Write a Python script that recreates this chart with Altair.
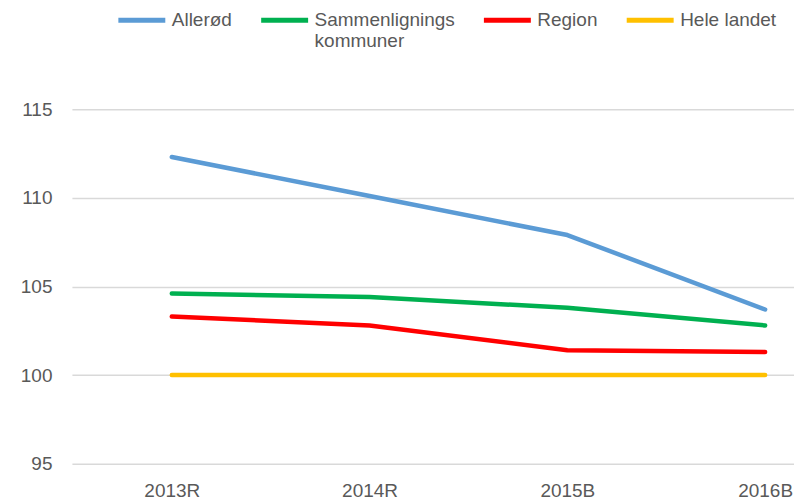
import altair as alt
import pandas as pd

categories = ["2013R", "2014R", "2015B", "2016B"]
series_names = ["Allerød", "Sammenlignings kommuner", "Region", "Hele landet"]
allerod = [112.3, 110.1, 107.9, 103.7]
sammen = [104.6, 104.4, 103.8, 102.8]
region = [103.3, 102.8, 101.4, 101.3]
hele = [100, 100, 100, 100]
colors = ["#5B9BD5", "#00B050", "#FF0000", "#FFC000"]

rows = []
for name, vals in zip(series_names, [allerod, sammen, region, hele]):
    for i, (c, v) in enumerate(zip(categories, vals)):
        rows.append({"series": name, "cat": c, "value": v, "idx": i})
df = pd.DataFrame(rows)

FONT = "Liberation Sans"
TXT = "#595959"
FS = 19

cat_array = "[" + ", ".join("'%s'" % c for c in categories) + "]"

chart = alt.Chart(df).mark_line(strokeWidth=4.5, strokeCap="round", strokeJoin="round").encode(
    x=alt.X("idx:Q",
            scale=alt.Scale(domain=[-0.505, 3.146], nice=False, zero=False),
            axis=alt.Axis(title=None, values=list(range(len(categories))),
                          labelExpr=cat_array + "[datum.value]",
                          labelAngle=0, ticks=False, domain=False, grid=False,
                          labelPadding=18, labelFontSize=FS, labelColor=TXT, labelFont=FONT,
                          labelFlush=False, labelOverlap=False)),
    y=alt.Y("value:Q", scale=alt.Scale(domain=[95, 115], nice=False, zero=False),
            axis=alt.Axis(title=None, values=[95, 100, 105, 110, 115], ticks=False, domain=False,
                          gridColor="#D9D9D9", gridWidth=1.5, labelPadding=20, labelFontSize=FS,
                          labelColor=TXT, labelFont=FONT)),
    color=alt.Color("series:N", sort=series_names,
                    scale=alt.Scale(domain=series_names, range=colors),
                    legend=alt.Legend(title=None, orient="none", legendX=44, legendY=-115,
                                      direction="horizontal", symbolType="stroke",
                                      symbolSize=2209, symbolStrokeWidth=5,
                                      labelFontSize=FS, labelFont=FONT, labelColor=TXT,
                                      columnPadding=18, labelOffset=4, labelLimit=300,
                                      padding=0,
                                      labelExpr="datum.label == 'Sammenlignings kommuner' ? ['Sammenlignings', 'kommuner'] : [datum.label, '']")),
    order=alt.Order("idx:Q"),
).properties(
    width=723, height=355, autosize="none", background="white",
    padding={"left": 64, "top": 101, "right": 0, "bottom": 38},
).configure_view(strokeWidth=0, stroke="transparent").configure_axis(domain=False, ticks=False)

chart.save("out.html", embed_options={"renderer": "svg", "actions": False})
